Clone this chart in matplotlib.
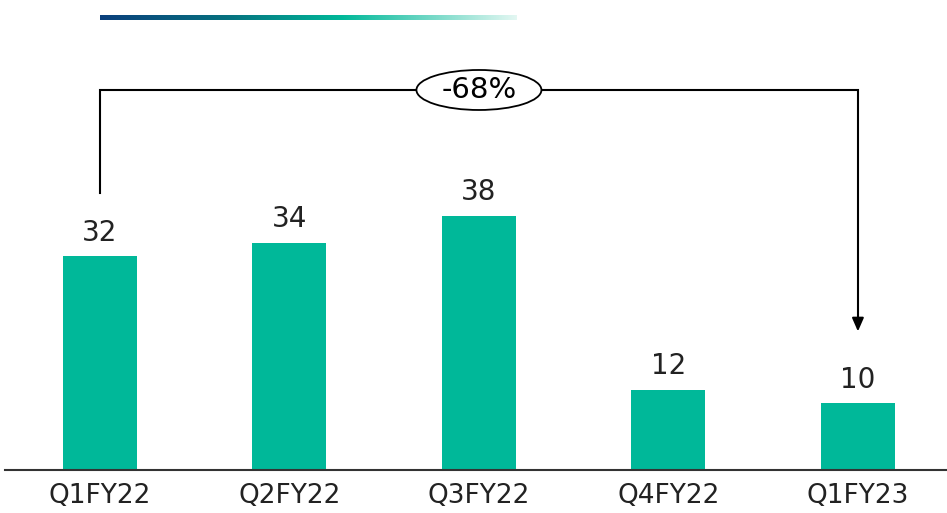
import numpy as np
import matplotlib
matplotlib.use('Agg')
import matplotlib.pyplot as plt
from matplotlib.colors import LinearSegmentedColormap
from matplotlib.patches import Ellipse

quarters = ['Q1FY22', 'Q2FY22', 'Q3FY22', 'Q4FY22', 'Q1FY23']
values = [32, 34, 38, 12, 10]
change_label = '-68%'

bar_color = '#00b899'
plt.rcParams['font.family'] = ['DejaVu Sans']

fig = plt.figure(figsize=(9.47, 5.13), dpi=100)
ax = fig.add_axes([5 / 947, 43 / 513, 942 / 947, 470 / 513])

x = np.arange(len(quarters))
ax.bar(x, values, width=0.39, color=bar_color)
for xi, v in zip(x, values):
    ax.text(xi, v + 2.3, str(v), ha='center', va='baseline', fontsize=20, color='#222222')

ax.set_xlim(-0.501, 4.47)
ax.set_ylim(0, 70.25)
ax.set_xticks(x)
ax.set_xticklabels(quarters, fontsize=19, color='#222222')
ax.tick_params(axis='x', length=0, pad=9)
ax.set_yticks([])
for s in ['top', 'right', 'left']:
    ax.spines[s].set_visible(False)
ax.spines['bottom'].set_linewidth(1.5)
ax.spines['bottom'].set_color('#333333')

# bracket from first to last quarter
top = 56.8
ax.plot([0, 0, 4, 4], [values[0] + 9.4, top, top, 21.5], color='black', lw=1.5,
        solid_joinstyle='miter', clip_on=False)
ax.annotate('', xy=(4, 20.3), xytext=(4, 22.5),
            arrowprops=dict(arrowstyle='-|>,head_width=0.35,head_length=0.8',
                            color='black', lw=1.5))
ell_w = 125 / 189.5
ell_h = 40 / 6.69
ax.add_patch(Ellipse((2, top), ell_w, ell_h, facecolor='white', edgecolor='black',
                     lw=1.3, zorder=3, clip_on=False))
ax.text(2, top, change_label, ha='center', va='center', fontsize=21, zorder=4)

# gradient header line
gax = fig.add_axes([100 / 947, 1 - 20 / 513, 417 / 947, 5 / 513])
cmap = LinearSegmentedColormap.from_list('hdr', [(0, '#0b3f7c'), (0.3, '#06707f'),
                                                  (0.58, '#00b899'), (1, '#e3f7f2')])
gax.imshow(np.linspace(0, 1, 256)[None, :], aspect='auto', cmap=cmap)
gax.axis('off')

fig.savefig('out.png', dpi=100)
